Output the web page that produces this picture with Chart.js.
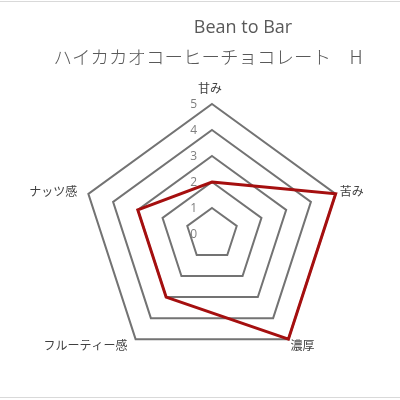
<!DOCTYPE html>
<html>
<head>
<meta charset="utf-8">
<script src="https://cdn.jsdelivr.net/npm/chart.js@4.4.0/dist/chart.umd.min.js"></script>
<style>
html,body{margin:0;padding:0;background:#fff;}
#wrap{width:400px;height:400px;position:relative;}
</style>
</head>
<body>
<div id="wrap"><canvas id="c" width="400" height="400"></canvas></div>
<script>
const titleLine1 = "Bean to Bar";
const titleLine2 = "ハイカカオコーヒーチョコレート　H";
const categories = ["甘み", "苦み", "濃厚", "フルーティー感", "ナッツ感"];
const values = [2, 5, 5, 3, 3];
const tickLabels = ["0", "1", "2", "3", "4", "5"];

const labelOffsets = [
  {dx: -2, dy: -16, align: "center"},
  {dx: 4, dy: -2, align: "left"},
  {dx: 2, dy: 6, align: "left"},
  {dx: -8, dy: 6, align: "right"},
  {dx: -11, dy: -2, align: "right"}
];

const textPlugin = {
  id: "textPlugin",
  afterDraw(chart) {
    const ctx = chart.ctx;
    const s = chart.scales.r;
    ctx.save();
    ctx.strokeStyle = "#d9d9d9";
    ctx.lineWidth = 1;
    ctx.beginPath();
    ctx.moveTo(0, 1.5); ctx.lineTo(400, 1.5);
    ctx.moveTo(0, 397.5); ctx.lineTo(400, 397.5);
    ctx.stroke();
    ctx.fillStyle = "#595959";
    ctx.textBaseline = "middle";
    ctx.textAlign = "center";
    ctx.font = "18px 'Open Sans', 'Noto Sans', sans-serif";
    ctx.fillText(titleLine1, 243, 28);
    ctx.font = "300 18.5px 'Noto Sans CJK JP', sans-serif";
    ctx.fillText(titleLine2, 208, 57);
    ctx.font = "12px 'Noto Sans CJK JP', sans-serif";
    ctx.fillStyle = "#404040";
    categories.forEach((c, i) => {
      const p = s.getPointPosition(i, s.drawingArea);
      const o = labelOffsets[i];
      ctx.textAlign = o.align;
      ctx.fillText(c, p.x + o.dx, p.y + o.dy);
    });
    ctx.font = "12px 'Open Sans', 'Noto Sans', sans-serif";
    ctx.fillStyle = "#7f7f7f";
    ctx.textAlign = "right";
    tickLabels.forEach((t, i) => {
      const d = s.getDistanceFromCenterForValue(Number(t));
      ctx.fillText(t, s.xCenter - 15, s.yCenter - d + 1);
    });
    ctx.restore();
  }
};

new Chart(document.getElementById("c"), {
  type: "radar",
  data: {
    labels: categories,
    datasets: [{
      data: values,
      borderColor: "#a50f0f",
      borderWidth: 3,
      backgroundColor: "rgba(0,0,0,0)",
      fill: false,
      pointRadius: 0,
      pointHoverRadius: 0,
      borderJoinStyle: "miter"
    }]
  },
  options: {
    responsive: false,
    animation: false,
    events: [],
    layout: {padding: {left: 82, right: 58, top: 104, bottom: 36}},
    plugins: {legend: {display: false}, tooltip: {enabled: false}, title: {display: false}},
    scales: {
      r: {
        min: 0,
        max: 5,
        ticks: {display: false, stepSize: 1},
        pointLabels: {display: false},
        angleLines: {display: false},
        grid: {color: "#737373", lineWidth: 2, circular: false}
      }
    }
  },
  plugins: [textPlugin]
});
</script>
</body>
</html>
